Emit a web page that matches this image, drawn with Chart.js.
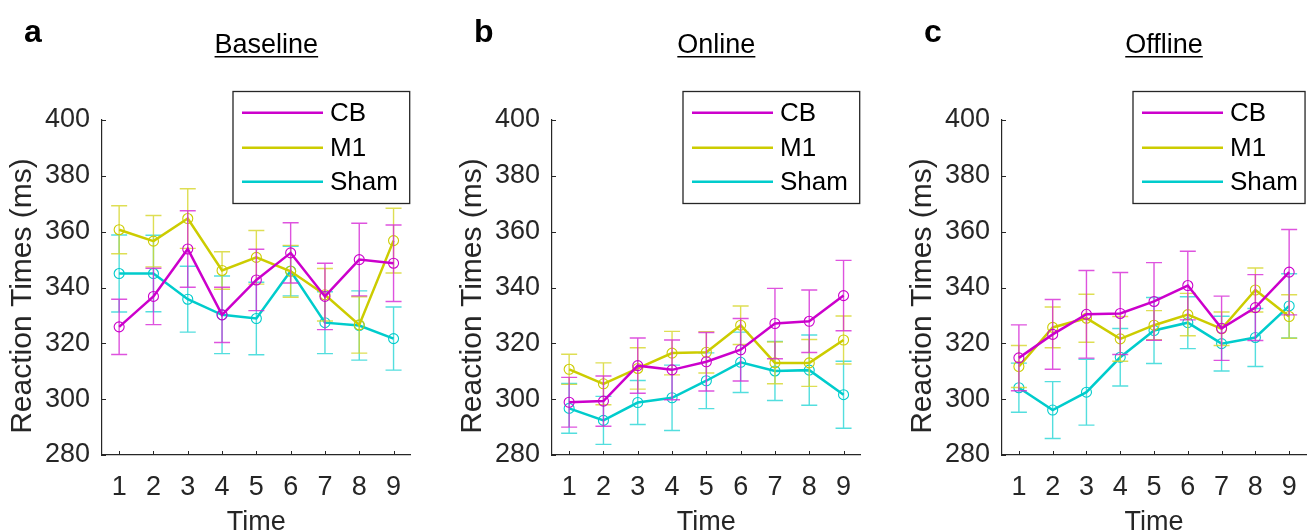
<!DOCTYPE html>
<html><head><meta charset="utf-8">
<script src="https://cdn.jsdelivr.net/npm/chart.js@4"></script>
<style>
html,body{margin:0;padding:0;background:#fff;overflow:hidden}
#wrap{position:relative;width:1313px;height:532px;background:#fff}
canvas{position:absolute;top:0}
</style></head><body>
<div id="wrap">
<canvas id="ca" width="450" height="532" style="left:0;width:450px;height:532px"></canvas>
<canvas id="cb" width="450" height="532" style="left:450px;width:450px;height:532px"></canvas>
<canvas id="cc" width="413" height="532" style="left:900px;width:413px;height:532px"></canvas>
</div>
<script>
// ---- data ----
const timeLabels = ['1','2','3','4','5','6','7','8','9'];
const seriesNames = ['CB','M1','Sham'];
const yTicks = [280,300,320,340,360,380,400];
const panelTitles = ['Baseline','Online','Offline'];
const panelLetters = ['a','b','c'];

const baselineCB     = [325.9, 336.8, 353.8, 330.2, 342.7, 352.4, 336.8, 350.0, 348.7];
const baselineCBErr  = [9.9, 10.1, 13.7, 9.9, 11.0, 10.8, 11.9, 13.0, 13.7];
const baselineM1     = [360.7, 356.6, 364.7, 346.1, 350.8, 345.8, 337.4, 326.6, 356.8];
const baselineM1Err  = [8.6, 9.2, 10.7, 6.7, 9.6, 9.3, 9.4, 10.1, 11.6];
const baselineSham   = [345.0, 345.0, 335.8, 330.2, 328.9, 345.9, 327.4, 326.4, 321.7];
const baselineShamErr= [13.8, 13.7, 11.8, 13.9, 13.0, 8.9, 11.1, 12.4, 11.3];

const onlineCB      = [298.9, 299.3, 312.0, 310.5, 313.4, 317.7, 327.1, 327.9, 337.1];
const onlineCBErr   = [8.9, 9.0, 9.9, 10.7, 10.5, 11.2, 12.6, 11.2, 12.6];
const onlineM1      = [310.7, 305.5, 311.0, 316.5, 316.8, 326.5, 313.0, 313.0, 321.2];
const onlineM1Err   = [5.4, 7.5, 7.4, 7.8, 7.4, 6.9, 7.5, 8.4, 8.6];
const onlineSham    = [296.7, 292.4, 298.8, 300.5, 306.6, 313.2, 310.1, 310.4, 301.6];
const onlineShamErr = [8.9, 8.6, 7.9, 11.7, 10.0, 10.8, 10.6, 12.6, 12.0];

const offlineCB      = [314.8, 323.2, 330.4, 330.7, 335.0, 340.7, 325.4, 332.8, 345.5];
const offlineCBErr   = [11.8, 12.5, 15.7, 14.7, 13.9, 12.3, 11.5, 11.8, 15.3];
const offlineM1      = [311.7, 325.7, 329.0, 321.6, 326.5, 330.3, 325.2, 339.1, 329.6];
const offlineM1Err   = [7.5, 7.3, 8.6, 8.0, 5.2, 7.6, 6.0, 7.9, 7.8];
const offlineSham    = [304.1, 296.1, 302.5, 315.0, 324.6, 327.4, 319.9, 322.1, 333.4];
const offlineShamErr = [8.8, 10.2, 11.8, 10.3, 11.8, 9.3, 9.8, 10.4, 11.5];

// ---- style ----
const FONT = "'Liberation Sans', Arial, Helvetica, sans-serif";
const AXIS = '#262626';
const seriesColors = ['rgb(204,0,204)','rgb(204,204,0)','rgb(0,204,204)'];
const errColors = ['rgba(214,40,214,0.8)','rgba(214,214,40,0.8)','rgba(40,214,214,0.8)'];

const errorBars = {
  id: 'errorBars',
  beforeDatasetDraw(chart, args) {
    const ds = chart.data.datasets[args.index];
    if (!ds.errors) return;
    const y = chart.scales.y, ctx = chart.ctx;
    ctx.save();
    ctx.strokeStyle = ds.errorColor;
    ctx.lineWidth = 1.4;
    args.meta.data.forEach((pt, i) => {
      const v = ds.data[i], e = ds.errors[i];
      const yt = y.getPixelForValue(v + e), yb = y.getPixelForValue(v - e);
      const x = pt.x, cw = 8;
      ctx.beginPath();
      ctx.moveTo(x, yt); ctx.lineTo(x, yb);
      ctx.moveTo(x - cw, yt); ctx.lineTo(x + cw, yt);
      ctx.moveTo(x - cw, yb); ctx.lineTo(x + cw, yb);
      ctx.stroke();
    });
    ctx.restore();
  }
};

const innerTicks = {
  id: 'innerTicks',
  afterDraw(chart) {
    const ctx = chart.ctx, xs = chart.scales.x, ys = chart.scales.y, a = chart.chartArea;
    ctx.save();
    ctx.strokeStyle = AXIS; ctx.lineWidth = 1;
    ctx.beginPath();
    xs.ticks.forEach((t, i) => {
      const px = Math.round(xs.getPixelForTick(i)) + 0.5;
      ctx.moveTo(px, a.bottom); ctx.lineTo(px, a.bottom - 4);
    });
    ys.ticks.forEach((t, i) => {
      const py = Math.round(ys.getPixelForTick(i)) + 0.5;
      ctx.moveTo(a.left, py); ctx.lineTo(a.left + 4, py);
    });
    ctx.stroke();
    ctx.restore();
  }
};

const panelDeco = {
  id: 'panelDeco',
  afterDraw(chart, args, opts) {
    const ctx = chart.ctx, a = chart.chartArea;
    ctx.save();
    // y axis title (text taken from the scale's title option)
    const yt = chart.options.scales.y.title;
    ctx.save();
    ctx.translate(31, 296);
    ctx.rotate(-Math.PI / 2);
    ctx.font = '30px ' + FONT;
    ctx.fillStyle = AXIS;
    ctx.textAlign = 'center';
    ctx.textBaseline = 'alphabetic';
    ctx.fillText(yt.text, 0, 0);
    ctx.restore();

    ctx.fillStyle = '#000';
    ctx.textBaseline = 'alphabetic';
    ctx.textAlign = 'left';
    ctx.font = 'bold 32px ' + FONT;
    ctx.fillText(opts.letter, 24, 42);
    ctx.font = '27px ' + FONT;
    ctx.textAlign = 'center';
    const cx = (a.left + a.right) / 2 + 10;
    ctx.fillText(opts.title, cx, 53);
    const w = ctx.measureText(opts.title).width;
    ctx.fillRect(cx - w / 2, 56, w, 1.5);
    // legend
    const bx0 = a.left + 131, bx1 = a.right - 1, by0 = 91.5, by1 = 203.5;
    ctx.fillStyle = '#fff';
    ctx.fillRect(bx0, by0, bx1 - bx0, by1 - by0);
    ctx.strokeStyle = AXIS; ctx.lineWidth = 1.3;
    ctx.strokeRect(bx0, by0, bx1 - bx0, by1 - by0);
    const rows = [112.7, 147.7, 181.7];
    ctx.font = '26px ' + FONT;
    ctx.textAlign = 'left';
    ctx.textBaseline = 'middle';
    chart.data.datasets.forEach((ds, i) => {
      ctx.strokeStyle = ds.borderColor; ctx.lineWidth = 2.5;
      ctx.beginPath();
      ctx.moveTo(bx0 + 9, rows[i]); ctx.lineTo(bx0 + 90, rows[i]);
      ctx.stroke();
      ctx.fillStyle = '#000';
      ctx.fillText(ds.label, bx0 + 97, rows[i] + 1);
    });
    ctx.restore();
  }
};

function makeDataset(i, vals, errs) {
  return {
    label: seriesNames[i], data: vals, errors: errs, errorColor: errColors[i],
    borderColor: seriesColors[i], borderWidth: 2.5, tension: 0,
    pointStyle: 'circle', pointRadius: 5, pointBorderWidth: 1.1,
    pointBorderColor: seriesColors[i], pointBackgroundColor: 'rgba(0,0,0,0)',
    clip: false
  };
}

function makeChart(id, w, idx, sets) {
  return new Chart(document.getElementById(id), {
    type: 'line',
    data: {
      labels: timeLabels,
      datasets: sets.map((s, i) => makeDataset(i, s[0], s[1]))
    },
    plugins: [errorBars, innerTicks, panelDeco],
    options: {
      responsive: false, animation: false, devicePixelRatio: 1,
      layout: { padding: { left: 0, top: 120, right: w - 410.7, bottom: 0 } },
      plugins: {
        legend: { display: false }, tooltip: { enabled: false },
        panelDeco: { letter: panelLetters[idx], title: panelTitles[idx] }
      },
      scales: {
        x: {
          type: 'category', offset: true,
          grid: { display: false, drawTicks: false },
          border: { display: true, color: AXIS, width: 1.2 },
          ticks: { color: AXIS, font: { family: FONT, size: 27 }, padding: 16, maxRotation: 0, autoSkip: false },
          title: { display: true, text: 'Time', color: AXIS, font: { family: FONT, size: 27 }, padding: { top: 0, bottom: -7 } },
          afterFit: (s) => { s.height = 77; }
        },
        y: {
          min: 280, max: 400,
          grid: { display: false, drawTicks: false },
          border: { display: true, color: AXIS, width: 1.2 },
          afterBuildTicks: (s) => { s.ticks = yTicks.map(v => ({ value: v })); },
          ticks: { color: AXIS, font: { family: FONT, size: 27 }, padding: 12 },
          title: { display: false, text: 'Reaction Times (ms)' },
          afterFit: (s) => { s.width = 102; }
        }
      }
    }
  });
}

makeChart('ca', 450, 0, [[baselineCB, baselineCBErr], [baselineM1, baselineM1Err], [baselineSham, baselineShamErr]]);
makeChart('cb', 450, 1, [[onlineCB, onlineCBErr], [onlineM1, onlineM1Err], [onlineSham, onlineShamErr]]);
makeChart('cc', 413, 2, [[offlineCB, offlineCBErr], [offlineM1, offlineM1Err], [offlineSham, offlineShamErr]]);
</script>
</body></html>
